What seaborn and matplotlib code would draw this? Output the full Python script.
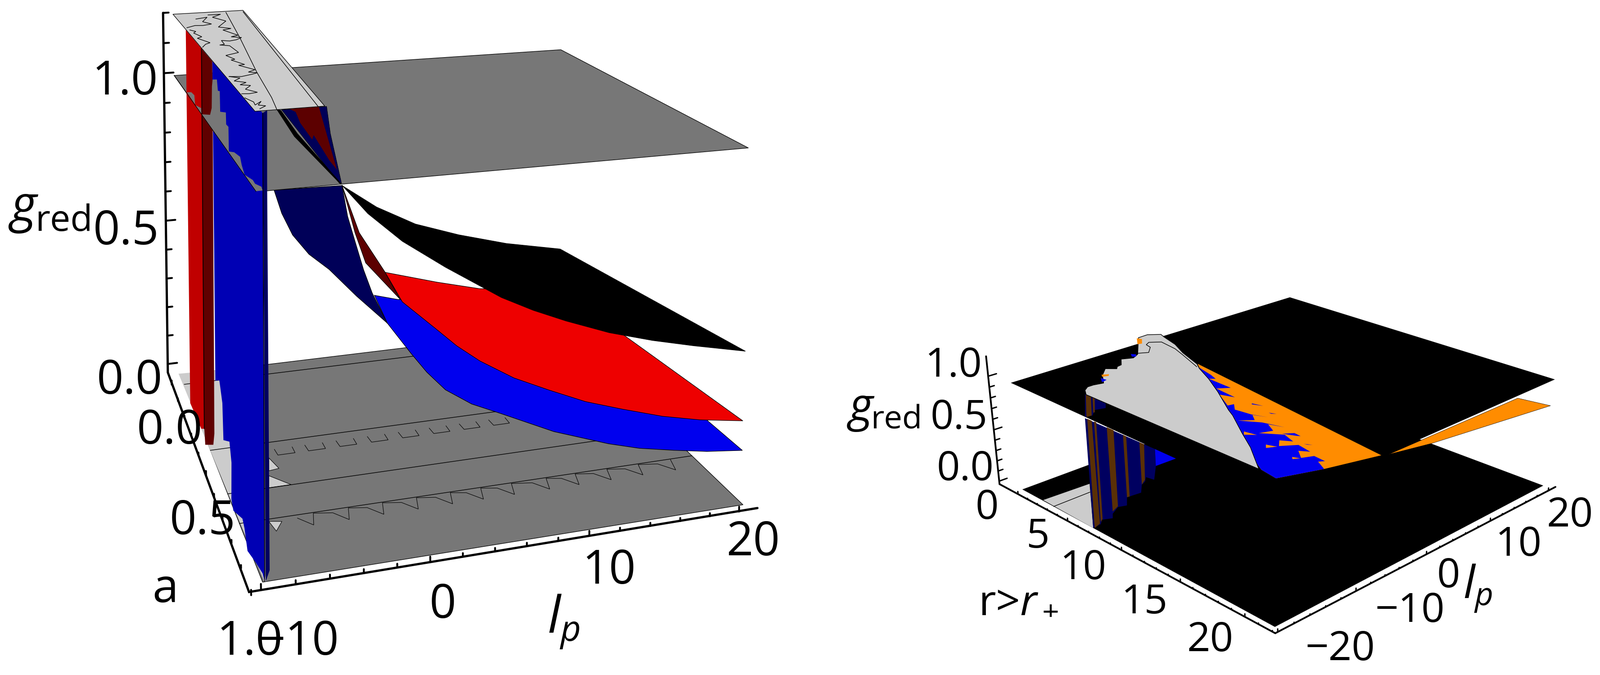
import numpy as np
import seaborn as sns
import matplotlib
matplotlib.use('Agg')
import matplotlib.pyplot as plt
from mpl_toolkits.mplot3d.art3d import Poly3DCollection

sns.set_theme(style='white', color_codes=False)
plt.rcParams['font.family'] = ['Open Sans', 'DejaVu Sans']
plt.rcParams['mathtext.fontset'] = 'custom'
plt.rcParams['mathtext.rm'] = 'Open Sans'
plt.rcParams['mathtext.it'] = 'Open Sans:italic'

W, H = 3555, 1500

# left panel, surfaces: (lp, g) along the edges a=0 and a=1
black_back_lp = [2.39, 5.06, 8.12, 11.6, 15.5, 20]
black_back_g = [0.588, 0.503, 0.431, 0.378, 0.33, 0.29]
black_front_lp = [-5.17, -3.7, -1.7, 0.845, 4.23, 6.2, 8.25, 11, 13.8, 16.5, 20]
black_front_g = [0.997, 0.919, 0.839, 0.76, 0.664, 0.62, 0.581, 0.535, 0.499, 0.47, 0.436]
red_back_lp = [5.7, 9.82, 13.3, 20]
red_back_g = [0.273, 0.219, 0.179, 0.145]
red_front_lp = [-2.72, -1.73, 0.313, 1.5, 2.91, 5, 7.18, 9.5, 11.9, 14.5, 17, 19.9]
red_front_g = [0.763, 0.682, 0.599, 0.55, 0.502, 0.445, 0.4, 0.355, 0.32, 0.285, 0.26, 0.24]
dred_back_lp = [2.39, 3.69, 5.7, 6.88]
dred_back_g = [0.588, 0.42, 0.273, 0.172]
dred_front_lp = [-5.17, -4.45, -3.85, -1.85]
dred_front_g = [0.997, 0.873, 0.793, 0.689]
blue_back_lp = [4.83, 6.7, 13.3, 20]
blue_back_g = [0.197, 0.173, 0.145, 0.125]
blue_front_lp = [-3.36, -2.62, -1.24, -0.3, 0.814, 2.4, 4.23, 7.5, 11, 13, 15.3, 17.5, 19.9]
blue_front_g = [0.707, 0.631, 0.545, 0.49, 0.437, 0.39, 0.353, 0.285, 0.23, 0.205, 0.185, 0.168, 0.156]
navy_back_lp = [2.39, 2.8, 3.35, 4, 4.66, 5.83]
navy_back_g = [0.588, 0.48, 0.392, 0.29, 0.206, 0.0941]
navy_front_lp = [-9.01, -8.6, -8.01, -7.1, -5.96, -4.4, -2.62]
navy_front_g = [1, 0.94, 0.883, 0.83, 0.786, 0.71, 0.631]
sliver_back_lp = [-2.2, -0.978, 2.3]
sliver_back_g = [0.859, 0.777, 0.596]
sliver_front_lp = [-8.78, -7.83, -5.24]
sliver_front_g = [1.2, 1.13, 1]
navy_up_lp = [-5.33, -2.81, -2.36, -2.13, -1.42, -1.57]
navy_up_g = [1.03, 1.03, 1.03, 0.949, 0.799, 0.8]
dred_up_lp = [-4.79, -2.86, -1.71, -2.2, -3.23, -3.33, -4.11, -4.4]
dred_up_g = [1.03, 1.03, 0.84, 0.869, 0.948, 0.935, 0.987, 1.02]

# left panel, walls: (a, g)
wall_red_a = [0.0912, 0.313, 0.248, 0.204, 0.0406]
wall_red_g = [1.17, 1.17, -0.0429, -0.0687, -0.0768]
wall_dred_a = [0.313, 0.454, 0.388, 0.371, 0.258, 0.248]
wall_dred_g = [1.17, 1.17, 0.0235, -0.0213, -0.0887, -0.0429]
wall_blue_a = [0.454, 0.989, 0.937, 0.918, 0.848, 0.765, 0.736, 0.715, 0.612, 0.59, 0.599, 0.579, 0.505, 0.5, 0.467, 0.415]
wall_blue_g = [1.17, 1.19, -0.0478, -0.0394, -0.0576, -0.0841, -0.04, -0.0262, -0.0706, -0.0515, 0.0624, 0.112, 0.0726, 0.181, 0.231, 0.202]
wall_navy_a = [0.989, 1.03, 1.02, 0.987, 0.947]
wall_navy_g = [1.19, 1.21, 1.03, 0.0178, -0.0408]

# left panel, part of the g=1 plane in front of the walls: (a, lp)
plane_step_a = [0.4, 0.41, 0.351, 0.142, 0.0729, 0.0759, 0.191, 0.197, 0.39, 0.4, 0.503, 0.524, 0.716, 0.725, 0.761, 0.82, 0.887, 0.926, 0.951, 0.973, 0.997, 0.998]
plane_step_lp = [-10, -9.49, -9.08, -7.98, -7.57, -7.28, -7.82, -7.72, -8.72, -8.4, -8.94, -8.91, -9.94, -9.67, -9.52, -9.76, -9.98, -9.74, -9.76, -9.54, -9.62, -10]
plane_small_a = [0.185, 0.188, 0.219, 0.312, 0.344, 0.398]
plane_small_lp = [-9.94, -9.65, -9.59, -9.99, -9.75, -10]

# left panel, floor: (a, lp)
floor_line_a = [0.06, 0.43, 0.64, 0.77]
notch_a = 0.497
notch_lp = [-5.33, -3.27, -1.13, 1.04, 3.21, 5.4, 7.56, 9.69]
tooth_a = 0.82
tooth_lp = [-5.77, -3.57, -1.4, 0.789, 3, 5.01, 7.06, 9.41, 11.4, 13.6, 15.8, 18.1]
light_a = [-0.00747, 0.000116, 1, 0.999]
light_lp = [-10.1, -7.29, -9.77, -9.89]
wedge_a = [[0.503, 0.558, 0.563], [0.585, 0.638, 0.638], [0.778, 0.786, 0.821]]
wedge_lp = [[-6.54, -6.22, -6.91], [-7.05, -5.96, -7.38], [-8.26, -7.51, -8.07]]

# left panel, scribbles on the g=1.2 cap: (a, lp)
cap_lines = {
    'c1': ([0.0164, 0.337, 0.684, 0.907, 1], [-6.23, -7.02, -7.99, -8.48, -8.78]),
    'c2': ([0.0212, 1], [-5, -6.47]),
    'sA': ([0.0383, 0.0379, 0.0702, 0.127, 0.194, 0.22, 0.232, 0.302, 0.315, 0.33, 0.351, 0.36, 0.349, 0.392, 0.397],
           [-7.65, -6.73, -7.49, -6.83, -7.72, -6.98, -7.61, -6.97, -7.5, -6.88, -7.35, -7.85, -8.34, -8.37, -8.7]),
    'sB': ([0.0811, 0.0664, 0.119, 0.153, 0.165, 0.16, 0.181], [-8.73, -7.85, -8.44, -7.98, -8.62, -9.16, -9.84]),
    'sD': ([0.209, 0.231, 0.247, 0.295, 0.309, 0.366, 0.379, 0.409], [-9.77, -9.46, -9.69, -9.37, -9.74, -9.18, -9.54, -9.89]),
    'sE': ([0.397, 0.411, 0.486, 0.508, 0.551, 0.556, 0.607, 0.611, 0.662, 0.679, 0.691, 0.701, 0.715, 0.708],
           [-8.65, -8.13, -7.97, -8.91, -8.57, -8.84, -8.28, -8.68, -7.96, -8.47, -7.99, -8.37, -9.09, -9.77]),
    'sF': ([0.707, 0.727, 0.749, 0.769, 0.785, 0.797, 0.825, 0.857, 0.864, 0.86], [-9.81, -9.25, -9.73, -9.13, -9.58, -9.03, -9.5, -8.99, -9.51, -9.92]),
    'sG': ([0.894, 0.931, 0.955, 0.93, 0.957, 0.967, 0.986], [-9.94, -9.65, -9.71, -9.22, -9.55, -9.19, -9.64]),
}

# right panel: (r, lp)
cap_r = [7.39, 6.83, 6.53, 6.53, 6.69, 5.69, 4.98, 5.45, 5.2, 5.13, 4.39, 4.58, 4.73, 4.43, 2.21, 2.17, 2.71, 3.2, 4.69, 6.09, 8.08, 8.72, 10.3, 12.1, 14.4, 15.1, 17.1, 18.7, 20.8]
cap_lp = [-20, -19.4, -18.7, -18, -17, -15.8, -14.5, -13.7, -13.3, -12.7, -11.7, -11.1, -10.6, -9.62, -6.4, -5.12, -4.05, -4.34, -5.01, -6.07, -7.18, -7.85, -9.07, -10.7, -13, -13.6, -15.7, -17.3, -19.8]
capline_r = [4.36, 4.69, 4.06, 3.55, 3.33, 3.82, 5.29, 6.38, 8.45]
capline_lp = [-9.42, -8.52, -7.41, -7.22, -6.56, -5.56, -5.89, -6.5, -7.74]
orange_r = [6.71, 22.9, 22, 21.1, 19.9, 13.3]
orange_lp = [-5.03, -8.54, -14.1, -18.3, -18, -12.2]
blue_r = [7.23, 8.63, 9.26, 8.98, 10.9, 10.4, 12.1, 11.2, 12.7, 12.8, 13.4, 13.7, 14.5, 15.4, 14.6, 15.2, 14.6, 15.7, 17, 16.1, 16.9, 16.6, 17.6, 18.2, 17.5, 17.9, 18.4, 17.7, 18.6, 18, 18.5, 19.1, 20.1, 19.6, 20.3, 20.6, 21.4, 21.2, 22, 21.1, 19.9, 13.3]
blue_lp = [-5.63, -6.17, -6.54, -7.02, -7.12, -8.25, -8.5, -9.09, -10.4, -9.74, -10.6, -10.5, -10.3, -9.66, -10.3, -11, -12.2, -10.9, -10.2, -10.8, -11.5, -12.8, -11.5, -10.8, -11.4, -10.5, -10.6, -11.4, -11.9, -12.6, -13.5, -12.1, -12.4, -13, -13.9, -12.8, -12.9, -13.4, -14.1, -18.3, -18, -12.2]
fleck_orange = [([15.9, 16.7, 16.2], [-13.5, -13.2, -14]), ([17.9, 18.4, 18.2], [-14.1, -14, -14.6]),
                ([17.9, 18.5, 18.2], [-14.1, -13.7, -14.5]), ([19.9, 20.3, 20.1], [-14.3, -14, -14.6])]
fleck_blue = [([19.2, 19.6, 19.4], [-11.6, -11.2, -11.5]), ([15, 15.4, 15.2], [-8.86, -8.52, -8.86]),
              ([13.4, 14.1, 13.5], [-8.39, -8.07, -8.57])]
edge_orange = [([2.26, 2.58, 3.21, 3.12], [-6.66, -6.42, -7.3, -7.77]), ([5.62, 5.86, 6.05, 5.91], [-15.8, -15.2, -15.5, -16.1])]
edge_blue = [([4.15, 4.41, 4.71, 4.54], [-10.1, -9.78, -10.2, -10.5]), ([6, 6.46, 6.57], [-16.4, -16.3, -17])]
sliver_r = [21.1, 21.2, 23.2, 21.8]
sliver_lp = [-3.89, 15.7, 16.4, 0.918]
floor_grey_r = [2.09, 2.25, 7.08]
floor_grey_lp = [-19.9, -14.1, -20]
floor_mark_r = [3.23, 3.2]
floor_mark_lp = [-20, -15.3]

# right panel, walls: (r, g)
wtop_navy_r = [6.49, 8.34, 8.31, 7.29, 7.04, 6.32]
wtop_navy_g = [1.14, 1.14, 1.1, 1.04, 0.982, 0.938]
wtop_brown = [([6.56, 7.03, 6.97, 6.46], [1.14, 1.14, 0.979, 0.944]), ([7.17, 7.37, 7.28, 7.13], [1.14, 1.14, 1.02, 1.01])]
wlow_navy_r = [6.31, 12.4, 12.4, 12.2, 11.5, 11.4, 11.1, 11, 9.7, 9.65, 8.81, 8.27, 8.24, 7.21, 7.03, 6.26]
wlow_navy_g = [0.927, 0.938, 0.793, 0.669, 0.657, 0.614, 0.571, 0.497, 0.39, 0.314, 0.256, 0.166, 0.123, 0.0542, 0.0022, -0.0751]
wlow_brown = [([6.52, 6.93, 6.97, 6.41], [0.931, 0.932, 0.0056, -0.067]),
              ([7.14, 7.34, 7.26, 7.05], [0.935, 0.937, 0.0638, 0.0243]),
              ([8.28, 8.88, 8.81, 8.28], [0.936, 0.937, 0.263, 0.187]),
              ([9.7, 9.98, 9.95, 9.7], [0.935, 0.933, 0.41, 0.39]),
              ([11.1, 11.5, 11.4, 11.1], [0.934, 0.936, 0.629, 0.573])]
wall_tri_r = [12.4, 14.1, 12.4]
wall_tri_g = [0.938, 0.939, 0.796]

# tick labels
left_ticks = ['1.0', '0.5', '0.0', '0.0', '0.5', '1.0', '\u221210', '0', '10', '20']
right_ticks = ['1.0', '0.5', '0.0', '0', '5', '10', '15', '20', '\u221220', '\u221210', '0', '10', '20']

black = '#000000'
col_plane, col_light = '#777777', '#cccccc'
col_red, col_blue, col_dred, col_navy = sns.color_palette(['#ee0000', '#0000ee', '#5c0000', '#000058'])
col_wred, col_wdred, col_wblue, col_wnavy = sns.color_palette(['#c00000', '#600000', '#0000b4', '#000060'])
col_orange, col_brown = '#ff8c00', '#5a3006'

fig = plt.figure(figsize=(W/100, H/100), dpi=100)

def make_axes(view, limits):
    elev, azim, roll, lf, bx, by, cx, cy, s, dx, dy, dz = view
    side = s*0.185
    left = cx - 0.095*s
    bottom = cy + 0.095*s
    ax = fig.add_axes([left/W, 1 - bottom/H, side/W, side/H], projection='3d', computed_zorder=False)
    w = [b - a for a, b in limits]
    ax.set_xlim(limits[0][0] + dx*w[0], limits[0][1] + dx*w[0])
    ax.set_ylim(limits[1][0] + dy*w[1], limits[1][1] + dy*w[1])
    ax.set_zlim(limits[2][0] + dz*w[2], limits[2][1] + dz*w[2])
    ax.set_box_aspect((np.exp(bx), np.exp(by), 1.0))
    ax.set_proj_type('persp', focal_length=np.exp(lf))
    ax.view_init(elev=elev, azim=azim, roll=roll)
    ax.set_axis_off()
    ax.patch.set_alpha(0)
    return ax

order = [0]
def poly(ax, x, y, z, color, ec='none', lw=0.0):
    x, y, z = np.broadcast_arrays(x, y, z)
    pc = Poly3DCollection([list(zip(x, y, z))], facecolors=color, edgecolors=ec, linewidths=lw)
    pc.set_clip_on(False)
    order[0] += 1
    pc.set_zorder(order[0])
    ax.add_collection3d(pc, autolim=False)

def line(ax, x, y, z, color=black, lw=1.0):
    x, y, z = np.broadcast_arrays(x, y, z)
    order[0] += 1
    ax.plot(x, y, z, color=color, lw=lw, clip_on=False, zorder=order[0], solid_joinstyle='miter')

def sheet(ax, back_lp, back_g, front_lp, front_g, color, ec=black, lw=0.9):
    a = [0]*len(back_lp) + [1]*len(front_lp)
    lp = list(back_lp) + list(front_lp)[::-1]
    g = list(back_g) + list(front_g)[::-1]
    poly(ax, a, lp, g, color, ec=ec, lw=lw)

def label(x, y, s, size, **kw):
    # y is the text baseline, in pixels from the top
    fig.text(x/W, 1 - y/H, s, fontsize=size, ha='center', va='baseline', color=black, **kw)

# ---- left panel
ax = make_axes([6.1164, -18.3854, 0.0645454, -0.847308, 0.172507, 0.101965, 1095.64, -229.375, 8908.9, -0.0569111, 0.157686, 0.843214],
               [(0, 1), (-10, 20), (0, 1.2)])
poly(ax, [0, 0, 1, 1], [-10, 20, 20, -10], 0, col_plane, ec=black, lw=0.9)
for w_a, w_lp in zip(wedge_a, wedge_lp):
    poly(ax, w_a, w_lp, 0, col_light, ec=black, lw=0.8)
poly(ax, light_a, light_lp, 0, col_light)
for a0 in floor_line_a:
    line(ax, [a0, a0], [-10, 20], 0, lw=1.0)
for lp0 in notch_lp:
    line(ax, [notch_a - 0.03, notch_a, notch_a, notch_a - 0.03], [lp0 - 0.6, lp0 - 0.55, lp0 + 0.6, lp0 + 0.6], 0, lw=0.8)
tooth_x, tooth_y = [], []
for lp0 in tooth_lp:
    tooth_x += [tooth_a - 0.037, tooth_a, tooth_a - 0.047]
    tooth_y += [lp0 - 0.75, lp0, lp0 + 0.31]
line(ax, tooth_x, tooth_y, 0, lw=0.8)

sheet(ax, navy_back_lp, navy_back_g, navy_front_lp, navy_front_g, col_navy)
sheet(ax, blue_back_lp, blue_back_g, blue_front_lp, blue_front_g, col_blue)
sheet(ax, dred_back_lp, dred_back_g, dred_front_lp, dred_front_g, col_dred)
sheet(ax, red_back_lp, red_back_g, red_front_lp, red_front_g, col_red)
sheet(ax, black_back_lp, black_back_g, black_front_lp, black_front_g, black)

poly(ax, [0, 0, 1, 1], [-10, 20, 20, -10], 1, col_plane, ec=black, lw=0.9)
poly(ax, 0.5, navy_up_lp, navy_up_g, col_navy, ec=black, lw=0.6)
poly(ax, 0.5, dred_up_lp, dred_up_g, col_dred)
sheet(ax, sliver_back_lp, sliver_back_g, sliver_front_lp, sliver_front_g, black)

poly(ax, wall_red_a, -9.5, wall_red_g, col_wred)
poly(ax, wall_dred_a, -9.5, wall_dred_g, col_wdred)
poly(ax, wall_blue_a, -9.5, wall_blue_g, col_wblue)
poly(ax, wall_navy_a, -9.5, wall_navy_g, col_wnavy)
line(ax, [0.313, 0.248], -9.5, [1.17, -0.0429], lw=1.2)
line(ax, [0.989, 0.937], -9.5, [1.19, -0.0478], lw=1.2)
poly(ax, plane_step_a, plane_step_lp, 1, col_plane)
poly(ax, plane_small_a, plane_small_lp, 1, col_plane)
line(ax, [0, 1], -10, 1, lw=0.9)
poly(ax, [0, 0, 1, 1], [-10, -4.9, -6.1, -10], 1.2, col_light, ec=black, lw=0.9)
for name in cap_lines:
    line(ax, cap_lines[name][0], cap_lines[name][1], 1.2, lw=1.0)

axis_lw, tick_lw = 3.6, 3.0
line(ax, [-0.0214, -0.077, 0.988, 0.983], [-10.6, -10.6, -10.7, 21.3], [1.2, -0.03, -0.03, -0.03], lw=axis_lw)
for k, g0 in enumerate(np.arange(0, 1.21, 0.1)):
    a0 = -0.077 + (g0 + 0.03)/1.23*0.0556
    line(ax, [a0, a0], [-10.6, -10.6 + (0.7 if k % 5 == 0 else 0.4)], g0, lw=tick_lw)
for k, a0 in enumerate(np.arange(0, 1.01, 0.1)):
    line(ax, a0, [-10.65, -10.65], [-0.03, -0.016 if k % 5 == 0 else -0.021], lw=tick_lw)
for k, lp0 in enumerate(np.arange(-10, 20.1, 2)):
    line(ax, 0.985, [lp0, lp0], [-0.03, -0.016 if k % 5 == 0 else -0.021], lw=tick_lw)

big = 75
left_pos = [(278, 210), (280, 543), (288, 875), (377, 986), (450, 1187), (555, 1455), (664, 1455), (984, 1373), (1353, 1297), (1673, 1234)]
for (x0, y0), s in zip(left_pos, left_ticks):
    label(x0, y0, s, big)
label(367, 1338, 'a', big)
label(52, 492, 'g', 80, style='italic')
label(142, 513, 'red', 58)
label(1252, 1407, r'$l_p$', 81)

# ---- right panel
order[0] = 0
ax2 = make_axes([28.5892, -44.5815, 0.029708, -0.922219, 1.15581, 1.20148, 2842.3, 1209.27, 7115.41, 0.326014, -0.321695, -0.258747],
                [(0, 22), (-20, 20), (0, 1)])

poly(ax2, [0, 0, 22, 22], [-20, 20, 20, -20], 0, black)
poly(ax2, floor_grey_r, floor_grey_lp, 0, col_light)
line(ax2, floor_mark_r, floor_mark_lp, 0, lw=1.0)
poly(ax2, wlow_navy_r, -19, wlow_navy_g, col_wnavy)
for b_r, b_g in wlow_brown:
    poly(ax2, b_r, -19, b_g, col_brown)
poly(ax2, wall_tri_r, -19, wall_tri_g, col_blue)
poly(ax2, sliver_r, sliver_lp, 0.9, col_orange, ec=black, lw=0.5)
poly(ax2, [0, 0, 22, 22], [-20, 20, 20, -20], 1, black)
poly(ax2, wtop_navy_r, -19, wtop_navy_g, col_wnavy)
for b_r, b_g in wtop_brown:
    poly(ax2, b_r, -19, b_g, col_brown)
poly(ax2, orange_r, orange_lp, 1.1, col_orange)
poly(ax2, blue_r, blue_lp, 1.1, col_blue)
for f_r, f_lp in fleck_orange:
    poly(ax2, f_r, f_lp, 1.1, col_orange)
for f_r, f_lp in fleck_blue:
    poly(ax2, f_r, f_lp, 1.1, col_blue)
poly(ax2, cap_r, cap_lp, 1.2, col_light, ec=black, lw=1.0)
for f_r, f_lp in edge_orange:
    poly(ax2, f_r, f_lp, 1.2, col_orange)
for f_r, f_lp in edge_blue:
    poly(ax2, f_r, f_lp, 1.2, col_blue)
line(ax2, capline_r, capline_lp, 1.2, lw=1.0)

corner_r = [-1.98, 22.2, 22.4]
corner_lp = [-20.6, -20.3, 21.3]
top_r, top_g = -1.81, 1.18
line(ax2, [top_r] + corner_r, [corner_lp[0]] + corner_lp, [top_g, -0.03, -0.03, -0.03], lw=2.8)
for k, g0 in enumerate(np.arange(0, 1.01, 0.1)):
    t = (g0 + 0.03)/(top_g + 0.03)
    r0 = corner_r[0] + t*(top_r - corner_r[0])
    line(ax2, [r0, r0], [corner_lp[0], corner_lp[0] + (1.0 if k % 5 == 0 else 0.6)], g0, lw=2.2)
for k, r0 in enumerate(np.arange(0, 22.1, 1)):
    lp0 = corner_lp[0] + (r0 - corner_r[0])/(corner_r[1] - corner_r[0])*(corner_lp[1] - corner_lp[0])
    line(ax2, r0, [lp0, lp0], [-0.03, -0.004 if k % 5 == 0 else -0.02], lw=2.2)
for k, lp0 in enumerate(np.arange(-20, 20.1, 2)):
    r0 = corner_r[1] + (lp0 - corner_lp[1])/(corner_lp[2] - corner_lp[1])*(corner_r[2] - corner_r[1])
    line(ax2, r0, [lp0, lp0], [-0.03, -0.004 if k % 5 == 0 else -0.02], lw=2.2)

mid = 65
right_pos = [(2118, 837), (2130, 953), (2144, 1067), (2192, 1153), (2305, 1217), (2406, 1287), (2542, 1363), (2688, 1447),
             (2977, 1467), (3132, 1382), (3217, 1305), (3373, 1235), (3487, 1170)]
for (x0, y0), s in zip(right_pos, right_ticks):
    label(x0, y0, s, mid)
label(1912, 935, 'g', 74, style='italic')
label(1992, 952, 'red', 52)
label(2262, 1360, r'r>$r_+$', 68)
label(3283, 1330, r'$l_p$', 73)

fig.savefig('out.png', dpi=100)
